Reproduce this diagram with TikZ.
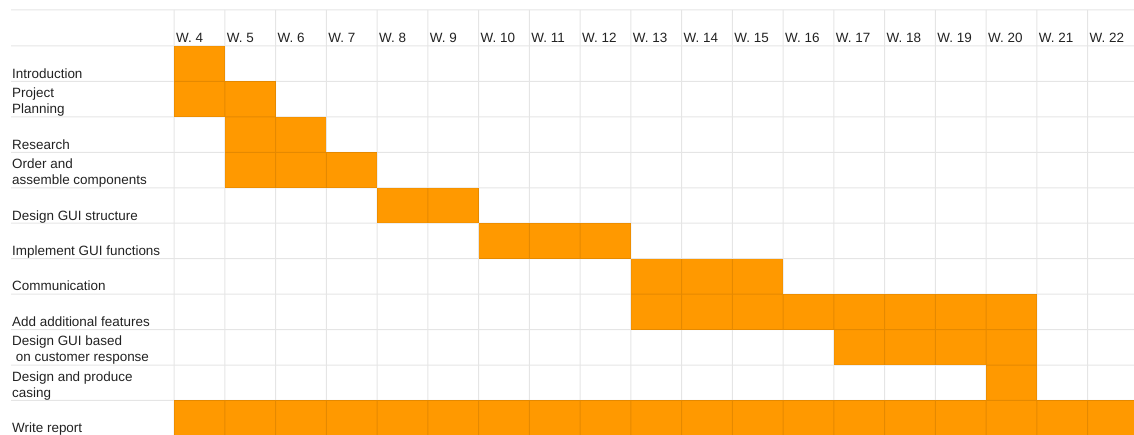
\documentclass[tikz,border=0pt]{standalone}
\usepackage{fontspec}
\setmainfont{Liberation Sans}
\usepackage{xcolor}
\usetikzlibrary{positioning}
\definecolor{barorange}{HTML}{FF9900}
\definecolor{labelgray}{HTML}{222222}

\begin{document}
\begin{tikzpicture}[x=1bp,y=-1bp,
  every node/.style={font=\fontsize{13.5}{16}\selectfont,text=labelgray,inner sep=0pt},
  tasklabel/.style={anchor=south west,align=left,text depth=3bp},
  weeklabel/.style={anchor=south west,text depth=3bp},
  bar/.style={fill=barorange},
  gridline/.style={draw=black,line width=1bp}]
  \useasboundingbox (0,0) rectangle (1134,435);
  % bars: row / first week / last week (columns from 0)
  \foreach \r/\a/\b in {0/0/0,1/0/1,2/1/2,3/1/3,4/4/5,5/6/8,6/9/11,7/9/16,8/13/16,9/16/16,10/0/18}
    \fill[bar] (174+50.75*\a,46+35.45*\r) rectangle (174+50.75*\b+50.75,46+35.45*\r+35.45);
  % grid
  \begin{scope}[transparency group,opacity=0.1]
    \draw[gridline] (11,10) -- (1140,10);
    \foreach \j in {0,...,11}
      \draw[gridline] (11,46+35.45*\j) -- (1140,46+35.45*\j);
    \foreach \i in {0,...,19}
      \draw[gridline] (174+50.75*\i,10) -- (174+50.75*\i,440);
  \end{scope}
  % week headers
  \foreach \w [count=\i from 0] in {4,...,22}
    \node[weeklabel] (w\w) at (176+50.75*\i,46) {W. \w};
  % task labels
  \foreach \t [count=\r] in {Introduction,{Project\\Planning},Research,
      {Order and\\assemble components},Design GUI structure,Implement GUI functions,
      Communication,Add additional features,{Design GUI based\\\hspace*{3.7bp}on customer response},
      {Design and produce\\casing},Write report}
    \node[tasklabel] (t\r) at (12,46+35.45*\r) {\t};
\end{tikzpicture}
\end{document}
